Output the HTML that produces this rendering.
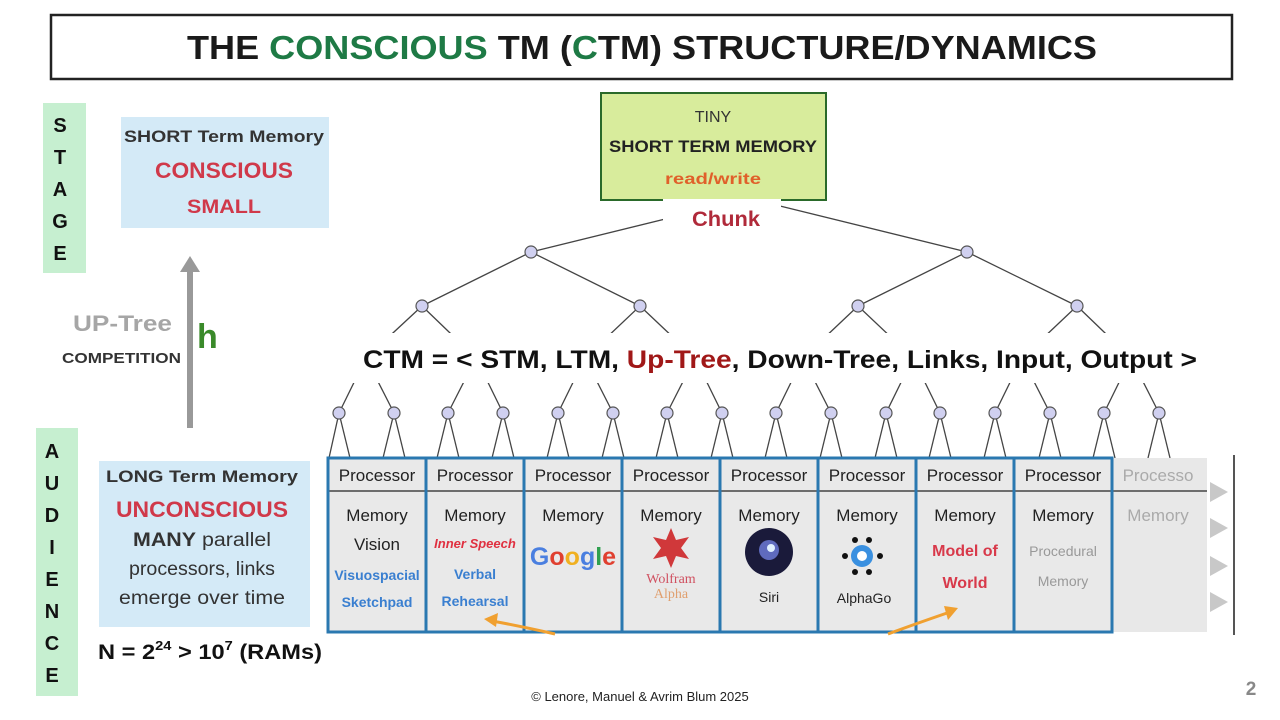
<!DOCTYPE html>
<html><head><meta charset="utf-8"><style>
html,body{margin:0;padding:0;background:#fff;}
svg{display:block;font-family:"Liberation Sans",sans-serif;}
</style></head><body>
<svg width="1280" height="720" viewBox="0 0 1280 720" xmlns="http://www.w3.org/2000/svg">
<rect x="0" y="0" width="1280" height="720" fill="#fff"/>
<rect x="51" y="15" width="1181" height="64" fill="#fff" stroke="#222" stroke-width="2.5"/>
<text x="187" y="59" font-size="33" font-weight="bold" fill="#1a1a1a" textLength="910" lengthAdjust="spacingAndGlyphs">THE <tspan fill="#1e7a45">CONSCIOUS</tspan> TM (<tspan fill="#1e7a45">C</tspan>TM) STRUCTURE/DYNAMICS</text>

<rect x="43" y="103" width="43" height="170" fill="#c6efd0"/>
<g font-size="20" font-weight="bold" fill="#111" text-anchor="middle">
<text x="60" y="132">S</text><text x="60" y="164">T</text><text x="60" y="196">A</text><text x="60" y="228">G</text><text x="60" y="260">E</text>
</g>
<rect x="36" y="428" width="42" height="268" fill="#c6efd0"/>
<g font-size="20" font-weight="bold" fill="#111" text-anchor="middle">
<text x="52" y="458">A</text><text x="52" y="490">U</text><text x="52" y="522">D</text><text x="52" y="554">I</text><text x="52" y="586">E</text><text x="52" y="618">N</text><text x="52" y="650">C</text><text x="52" y="682">E</text>
</g>

<rect x="121" y="117" width="208" height="111" fill="#d4eaf7"/>
<text x="224" y="142" font-size="17" font-weight="bold" fill="#333" text-anchor="middle" textLength="200" lengthAdjust="spacingAndGlyphs">SHORT Term Memory</text>
<text x="224" y="178" font-size="22" font-weight="bold" fill="#d0394a" text-anchor="middle" textLength="138" lengthAdjust="spacingAndGlyphs">CONSCIOUS</text>
<text x="224" y="213" font-size="19" font-weight="bold" fill="#d0394a" text-anchor="middle" textLength="74" lengthAdjust="spacingAndGlyphs">SMALL</text>

<rect x="187" y="270" width="6" height="158" fill="#999"/>
<polygon points="180,272 190,256 200,272" fill="#999"/>
<text x="73" y="331" font-size="22" font-weight="bold" fill="#a6a6a6" textLength="99" lengthAdjust="spacingAndGlyphs">UP-Tree</text>
<text x="62" y="363" font-size="15" font-weight="bold" fill="#333" textLength="119" lengthAdjust="spacingAndGlyphs">COMPETITION</text>
<text x="197" y="348" font-size="34" font-weight="bold" fill="#3a8a2a">h</text>

<rect x="99" y="461" width="211" height="166" fill="#d4eaf7"/>
<text x="202" y="482" font-size="17" font-weight="bold" fill="#333" text-anchor="middle" textLength="192" lengthAdjust="spacingAndGlyphs">LONG Term Memory</text>
<text x="202" y="517" font-size="22" font-weight="bold" fill="#d0394a" text-anchor="middle" textLength="172" lengthAdjust="spacingAndGlyphs">UNCONSCIOUS</text>
<text x="202" y="546" font-size="19" fill="#333" text-anchor="middle" textLength="138" lengthAdjust="spacingAndGlyphs"><tspan font-weight="bold">MANY</tspan> parallel</text>
<text x="202" y="575" font-size="19" fill="#333" text-anchor="middle" textLength="146" lengthAdjust="spacingAndGlyphs">processors, links</text>
<text x="202" y="604" font-size="19" fill="#333" text-anchor="middle" textLength="166" lengthAdjust="spacingAndGlyphs">emerge over time</text>
<text x="98" y="659" font-size="21" font-weight="bold" fill="#111" textLength="224" lengthAdjust="spacingAndGlyphs">N = 2<tspan font-size="13" dy="-9">24</tspan><tspan dy="9">  &gt; 10</tspan><tspan font-size="13" dy="-9">7</tspan><tspan dy="9"> (RAMs)</tspan></text>

<g stroke="#444" stroke-width="1.3" fill="none">
<line x1="710" y1="208" x2="531" y2="252"/><line x1="780" y1="206" x2="967" y2="252"/>
<line x1="531" y1="252" x2="422" y2="306"/><line x1="531" y1="252" x2="640" y2="306"/>
<line x1="967" y1="252" x2="858" y2="306"/><line x1="967" y1="252" x2="1077" y2="306"/>
<line x1="422" y1="306" x2="366" y2="358"/><line x1="422" y1="306" x2="476" y2="358"/>
<line x1="640" y1="306" x2="585" y2="358"/><line x1="640" y1="306" x2="695" y2="358"/>
<line x1="858" y1="306" x2="803" y2="358"/><line x1="858" y1="306" x2="913" y2="358"/>
<line x1="1077" y1="306" x2="1022" y2="358"/><line x1="1077" y1="306" x2="1131" y2="358"/>
<line x1="366" y1="358" x2="339" y2="413"/><line x1="366" y1="358" x2="394" y2="413"/>
<line x1="476" y1="358" x2="448" y2="413"/><line x1="476" y1="358" x2="503" y2="413"/>
<line x1="585" y1="358" x2="558" y2="413"/><line x1="585" y1="358" x2="613" y2="413"/>
<line x1="695" y1="358" x2="667" y2="413"/><line x1="695" y1="358" x2="722" y2="413"/>
<line x1="803" y1="358" x2="776" y2="413"/><line x1="803" y1="358" x2="831" y2="413"/>
<line x1="913" y1="358" x2="886" y2="413"/><line x1="913" y1="358" x2="940" y2="413"/>
<line x1="1022" y1="358" x2="995" y2="413"/><line x1="1022" y1="358" x2="1050" y2="413"/>
<line x1="1131" y1="358" x2="1104" y2="413"/><line x1="1131" y1="358" x2="1159" y2="413"/>
</g>
<rect x="330" y="333" width="910" height="50" fill="#fff"/>
<g stroke="#444" stroke-width="1.3">
<line x1="339" y1="413" x2="329" y2="458"/><line x1="339" y1="413" x2="350" y2="458"/>
<line x1="394" y1="413" x2="383" y2="458"/><line x1="394" y1="413" x2="405" y2="458"/>
<line x1="448" y1="413" x2="437" y2="458"/><line x1="448" y1="413" x2="459" y2="458"/>
<line x1="503" y1="413" x2="492" y2="458"/><line x1="503" y1="413" x2="514" y2="458"/>
<line x1="558" y1="413" x2="547" y2="458"/><line x1="558" y1="413" x2="569" y2="458"/>
<line x1="613" y1="413" x2="602" y2="458"/><line x1="613" y1="413" x2="624" y2="458"/>
<line x1="667" y1="413" x2="656" y2="458"/><line x1="667" y1="413" x2="678" y2="458"/>
<line x1="722" y1="413" x2="711" y2="458"/><line x1="722" y1="413" x2="733" y2="458"/>
<line x1="776" y1="413" x2="765" y2="458"/><line x1="776" y1="413" x2="787" y2="458"/>
<line x1="831" y1="413" x2="820" y2="458"/><line x1="831" y1="413" x2="842" y2="458"/>
<line x1="886" y1="413" x2="875" y2="458"/><line x1="886" y1="413" x2="897" y2="458"/>
<line x1="940" y1="413" x2="929" y2="458"/><line x1="940" y1="413" x2="951" y2="458"/>
<line x1="995" y1="413" x2="984" y2="458"/><line x1="995" y1="413" x2="1006" y2="458"/>
<line x1="1050" y1="413" x2="1039" y2="458"/><line x1="1050" y1="413" x2="1061" y2="458"/>
<line x1="1104" y1="413" x2="1093" y2="458"/><line x1="1104" y1="413" x2="1115" y2="458"/>
<line x1="1159" y1="413" x2="1148" y2="458"/><line x1="1159" y1="413" x2="1170" y2="458"/>
</g>
<g fill="#d0d0f0" stroke="#555" stroke-width="1.2">
<circle cx="531" cy="252" r="6"/><circle cx="967" cy="252" r="6"/>
<circle cx="422" cy="306" r="6"/><circle cx="640" cy="306" r="6"/><circle cx="858" cy="306" r="6"/><circle cx="1077" cy="306" r="6"/>
<circle cx="339" cy="413" r="6"/><circle cx="394" cy="413" r="6"/><circle cx="448" cy="413" r="6"/><circle cx="503" cy="413" r="6"/>
<circle cx="558" cy="413" r="6"/><circle cx="613" cy="413" r="6"/><circle cx="667" cy="413" r="6"/><circle cx="722" cy="413" r="6"/>
<circle cx="776" cy="413" r="6"/><circle cx="831" cy="413" r="6"/><circle cx="886" cy="413" r="6"/><circle cx="940" cy="413" r="6"/>
<circle cx="995" cy="413" r="6"/><circle cx="1050" cy="413" r="6"/><circle cx="1104" cy="413" r="6"/><circle cx="1159" cy="413" r="6"/>
</g>

<text x="363" y="368" font-size="25" font-weight="bold" fill="#111" textLength="834" lengthAdjust="spacingAndGlyphs">CTM  = &lt; STM, LTM, <tspan fill="#a01818">Up-Tree</tspan>, Down-Tree, Links, Input, Output &gt;</text>

<rect x="601" y="93" width="225" height="107" fill="#d8ec9c" stroke="#2a6a2a" stroke-width="2"/>
<text x="713" y="122" font-size="16" fill="#333" text-anchor="middle">TINY</text>
<text x="713" y="152" font-size="17" font-weight="bold" fill="#222" text-anchor="middle" textLength="208" lengthAdjust="spacingAndGlyphs">SHORT TERM MEMORY</text>
<text x="713" y="184" font-size="16" font-weight="bold" fill="#e0602a" text-anchor="middle" textLength="96" lengthAdjust="spacingAndGlyphs">read/write</text>
<rect x="663" y="199" width="118" height="37" fill="#fff"/>
<text x="726" y="226" font-size="21" font-weight="bold" fill="#b02a3a" text-anchor="middle" textLength="68" lengthAdjust="spacingAndGlyphs">Chunk</text>

<rect x="1112" y="458" width="95" height="174" fill="#e8e8e8"/>
<rect x="328" y="458" width="784" height="174" fill="#e9e9e9"/>
<line x1="328" y1="491" x2="1207" y2="491" stroke="#444" stroke-width="1.5"/>
<rect x="328" y="458" width="784" height="174" fill="none" stroke="#2a78b0" stroke-width="3"/>
<g stroke="#2a78b0" stroke-width="3">
<line x1="426" y1="458" x2="426" y2="632"/><line x1="524" y1="458" x2="524" y2="632"/>
<line x1="622" y1="458" x2="622" y2="632"/><line x1="720" y1="458" x2="720" y2="632"/>
<line x1="818" y1="458" x2="818" y2="632"/><line x1="916" y1="458" x2="916" y2="632"/>
<line x1="1014" y1="458" x2="1014" y2="632"/>
</g>
<line x1="1234" y1="455" x2="1234" y2="635" stroke="#555" stroke-width="2"/>
<g fill="#c8c8c8">
<polygon points="1210,482 1228,492 1210,502"/><polygon points="1210,518 1228,528 1210,538"/>
<polygon points="1210,556 1228,566 1210,576"/><polygon points="1210,592 1228,602 1210,612"/>
</g>
<g font-size="17" fill="#222" text-anchor="middle">
<text x="377" y="481">Processor</text><text x="475" y="481">Processor</text><text x="573" y="481">Processor</text>
<text x="671" y="481">Processor</text><text x="769" y="481">Processor</text><text x="867" y="481">Processor</text>
<text x="965" y="481">Processor</text><text x="1063" y="481">Processor</text>
<text x="1158" y="481" fill="#aaa">Processo</text>
<text x="377" y="521">Memory</text><text x="475" y="521">Memory</text><text x="573" y="521">Memory</text>
<text x="671" y="521">Memory</text><text x="769" y="521">Memory</text><text x="867" y="521">Memory</text>
<text x="965" y="521">Memory</text><text x="1063" y="521">Memory</text>
<text x="1158" y="521" fill="#aaa">Memory</text>
<text x="377" y="550">Vision</text>
</g>
<g font-weight="bold" text-anchor="middle">
<text x="377" y="580" font-size="14" fill="#3a7fd0">Visuospacial</text>
<text x="377" y="607" font-size="14" fill="#3a7fd0">Sketchpad</text>
<text x="475" y="548" font-size="13" fill="#e03040" font-style="italic">Inner Speech</text>
<text x="475" y="579" font-size="14" fill="#3a7fd0">Verbal</text>
<text x="475" y="606" font-size="14" fill="#3a7fd0">Rehearsal</text>
<text x="965" y="556" font-size="16" fill="#d8394a">Model of</text>
<text x="965" y="588" font-size="16" fill="#d8394a">World</text>
<text x="1063" y="556" font-size="14" fill="#999" font-weight="normal">Procedural</text>
<text x="1063" y="586" font-size="14" fill="#999" font-weight="normal">Memory</text>
</g>
<text x="573" y="565" font-size="25" text-anchor="middle" font-weight="bold"><tspan fill="#4a7fe0">G</tspan><tspan fill="#e04030">o</tspan><tspan fill="#f0b020">o</tspan><tspan fill="#4a7fe0">g</tspan><tspan fill="#30a050">l</tspan><tspan fill="#e04030">e</tspan></text>
<polygon points="671,528 676,540 689,537 681,548 689,559 676,556 671,568 666,556 653,559 661,548 653,537 666,540" fill="#d0383a"/>
<text x="671" y="583" font-size="14" fill="#d05060" text-anchor="middle" font-family="Liberation Serif,serif">Wolfram</text>
<text x="671" y="598" font-size="14" fill="#e0a070" text-anchor="middle" font-family="Liberation Serif,serif">Alpha</text>
<circle cx="769" cy="552" r="24" fill="#1a1a3a"/>
<circle cx="769" cy="550" r="10" fill="#7080e0" opacity="0.8"/>
<circle cx="771" cy="548" r="4" fill="#e0f0ff"/>
<text x="769" y="602" font-size="14" fill="#222" text-anchor="middle">Siri</text>
<circle cx="862" cy="556" r="11" fill="#3a90e0"/><circle cx="862" cy="556" r="5" fill="#fff"/>
<g fill="#111"><circle cx="845" cy="556" r="3"/><circle cx="880" cy="556" r="3"/><circle cx="855" cy="540" r="3"/><circle cx="869" cy="540" r="3"/><circle cx="855" cy="572" r="3"/><circle cx="869" cy="572" r="3"/></g>
<text x="864" y="603" font-size="14" fill="#222" text-anchor="middle">AlphaGo</text>
<g stroke="#f0a030" stroke-width="3" fill="none">
<path d="M555,634 Q520,626 492,621"/>
<path d="M888,634 Q915,624 950,612"/>
</g>
<polygon points="484,619 498,613 496,627" fill="#f0a030"/>
<polygon points="958,608 944,606 948,620" fill="#f0a030"/>

<text x="640" y="701" font-size="13" fill="#222" text-anchor="middle">© Lenore, Manuel &amp; Avrim Blum 2025</text>
<text x="1251" y="695" font-size="19" font-weight="bold" fill="#888" text-anchor="middle">2</text>
</svg>
</body></html>
